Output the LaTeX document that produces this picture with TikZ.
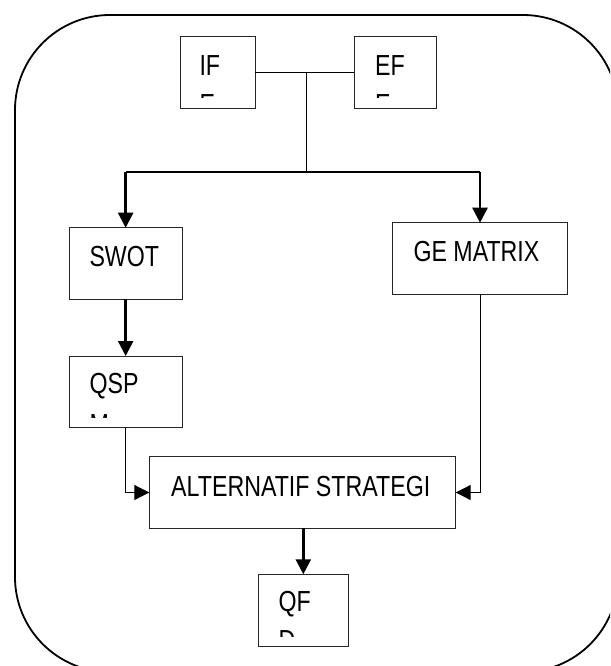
\documentclass[tikz,border=0pt]{standalone}
\usepackage{fontspec}
\setmainfont[FakeStretch=0.8]{Liberation Sans}
\usetikzlibrary{arrows.meta}
\begin{document}
\begin{tikzpicture}[x=1pt,y=-1pt,
  box/.style={draw=black!85, line width=1pt, rectangle, inner sep=0pt, outer sep=0pt},
  txt/.style={anchor=base west, inner sep=0pt, font=\fontsize{29}{34}\selectfont},
  thin/.style={line width=1pt},
  thick/.style={line width=2.4pt},
  tip/.style={-{Triangle[length=15pt,width=15pt]}}]
\useasboundingbox (0,0) rectangle (610,666);
\clip (0,0) rectangle (610,666);
% outer frame
\node[draw, line width=1.8pt, rounded corners=95pt, minimum width=603pt, minimum height=657pt, inner sep=0pt, outer sep=0pt] (frame) at (316.5,343.5) {};
% boxes
\node[box, minimum width=75pt, minimum height=72pt] (if) at (217.5,73) {};
\node[box, minimum width=82pt, minimum height=72pt] (ef) at (395,73) {};
\node[box, minimum width=113.3pt, minimum height=71.3pt] (swot) at (125.65,263.35) {};
\node[box, minimum width=174.6pt, minimum height=71.6pt] (ge) at (480,258.5) {};
\node[box, minimum width=113.3pt, minimum height=71.7pt] (qspm) at (125.65,391.85) {};
\node[box, minimum width=306.4pt, minimum height=71.6pt] (alt) at (302.5,492.5) {};
\node[box, minimum width=90pt, minimum height=71.7pt] (qfd) at (303.3,610.15) {};
% texts
\node[txt] (iftext) at (199.3,76) {IF};
\node[txt] (eftext) at (375,76) {EF};
\node[txt] (swottext) at (89.3,266.7) {SWOT};
\node[txt] (getext) at (413.3,261.7) {GE MATRIX};
\node[txt] (qsptext) at (89.3,393) {QSP};
\node[txt] (alttext) at (171,496.7) {ALTERNATIF STRATEGI};
\node[txt] (qftext) at (278.3,611.7) {QF};
\begin{scope}
\clip (181,80) rectangle (254,97.7);
\node[txt] (iftext2) at (199.3,114.5) {E};
\end{scope}
\begin{scope}
\clip (355,80) rectangle (435,97.7);
\node[txt] (eftext2) at (375,114.5) {E};
\end{scope}
\begin{scope}
\clip (70,400) rectangle (181,417.3);
\node[txt] (qsptext2) at (89.3,434) {M};
\end{scope}
\begin{scope}
\clip (259,620) rectangle (347,636.7);
\node[txt] (qftext2) at (278.3,650) {D};
\end{scope}
% connectors
\coordinate (junc) at (306.7,73);
\coordinate (split) at (306.7,172);
\coordinate (lsplit) at (125.65,172);
\coordinate (rsplit) at (480,172);
\draw[thin] (if.east) -- (ef.west);
\draw[thin] (junc) -- (split);
\draw[thick] (lsplit) -- (rsplit);
\draw[thick, tip] (lsplit) -- (swot.north);
\draw[thick, tip] (rsplit) -- (ge.north);
\draw[thick, tip] (swot.south) -- (qspm.north);
\draw[thin, tip] (qspm.south) |- (alt.west);
\draw[thin, tip] (ge.south) |- (alt.east);
\draw[thick, tip] (alt.south -| qfd.north) -- (qfd.north);
\end{tikzpicture}
\end{document}
